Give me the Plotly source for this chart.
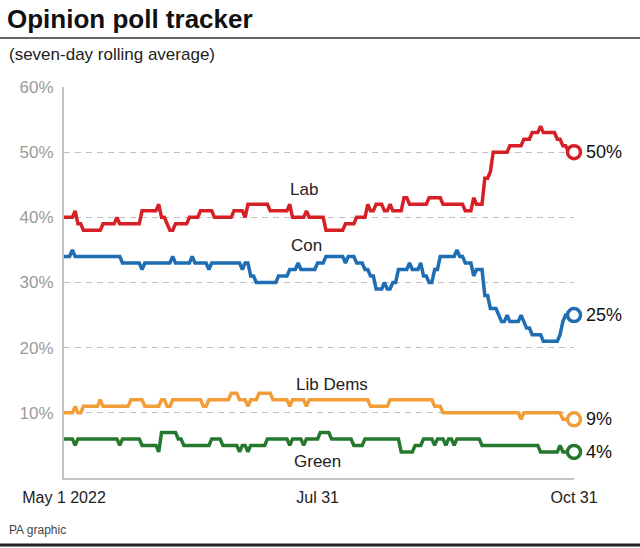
import pandas as pd
import plotly.graph_objects as go

# ---- data (day offsets from 1 May 2022 where the rolling average changes) ----
start_date = "2022-05-01"

lab_days = [0, 4, 5, 7, 14, 19, 20, 28, 34, 35, 37, 38, 40, 45, 49, 54, 61, 65, 66, 74, 81, 82, 87, 88,
            94, 101, 105, 109, 110, 112, 115, 117, 118, 122, 124, 131, 136, 144, 147, 148, 151, 153,
            154, 160, 165, 168, 171, 172, 177, 179, 181, 183]
lab_vals = [40, 41, 39, 38, 39, 40, 39, 41, 42, 40, 39, 38, 39, 40, 41, 40, 41, 40, 42, 41, 42, 40, 41, 40,
            38, 39, 40, 42, 41, 42, 41, 42, 41, 43, 42, 43, 42, 41, 43, 42, 46, 47,
            50, 51, 52, 53, 54, 53, 52, 51, 50, 50]

con_days = [0, 3, 4, 21, 28, 29, 39, 40, 46, 47, 52, 53, 64, 65, 67, 69, 77, 81, 84, 85, 91, 94, 101, 102,
            105, 108, 110, 112, 115, 116, 118, 120, 124, 125, 128, 129, 131, 133, 135, 141, 142, 144,
            147, 148, 151, 153, 156, 157, 159, 160, 164, 165, 166, 168, 172, 178, 179, 180, 183]
con_vals = [34, 35, 34, 33, 32, 33, 34, 33, 34, 33, 32, 33, 32, 33, 31, 30, 31, 32, 33, 32, 33, 34, 33, 34,
            33, 32, 31, 29, 30, 29, 30, 32, 33, 32, 33, 31, 30, 32, 34, 35, 34, 33,
            31, 32, 28, 26, 25, 24, 25, 24, 25, 24, 23, 22, 21, 22, 24, 25, 25]

ld_days = [0, 4, 5, 7, 13, 14, 24, 29, 35, 37, 39, 50, 52, 60, 63, 66, 67, 70, 75, 81, 82, 87, 88,
           110, 117, 133, 136, 164, 165, 179, 183]
ld_vals = [10, 11, 10, 11, 12, 11, 12, 11, 12, 11, 12, 11, 12, 13, 12, 11, 12, 13, 12, 11, 12, 11, 12,
           11, 12, 11, 10, 9, 10, 9, 9]

green_days = [0, 4, 5, 20, 21, 28, 34, 35, 41, 43, 53, 57, 63, 64, 66, 67, 73, 81, 82, 86, 87, 92, 96,
              104, 108, 121, 126, 129, 133, 134, 137, 138, 140, 141, 150, 171, 178, 179, 183]
green_vals = [6, 5, 6, 5, 6, 5, 4, 7, 6, 5, 6, 5, 4, 5, 4, 5, 6, 5, 6, 5, 6, 7, 6,
              5, 6, 4, 5, 6, 5, 6, 5, 6, 5, 6, 5, 4, 5, 4, 4]

party_names = ["Lab", "Con", "Lib Dems", "Green"]
party_colors = ["#d71f26", "#1f6db3", "#f29d38", "#26782f"]

tick_dates = ["2022-05-01", "2022-07-31", "2022-10-31"]
tick_labels = ["May 1 2022", "Jul 31", "Oct 31"]
y_ticks = [10, 20, 30, 40, 50, 60]

# label anchor positions for the series names (day offset, value)
name_days = [86, 87, 96, 91]
name_vals = [44.3, 35.7, 14.3, 2.6]

series = [(lab_days, lab_vals), (con_days, con_vals), (ld_days, ld_vals), (green_days, green_vals)]

FONT = "Liberation Sans, Arial, sans-serif"
base = pd.Timestamp(start_date)


def daily_path(days, vals):
    """Each reading holds until the day before the next change (daily rolling average)."""
    xs, ys = [], []
    for i, (d, v) in enumerate(zip(days, vals)):
        xs.append(d)
        ys.append(v)
        if i + 1 < len(days) and days[i + 1] - 1 > d:
            xs.append(days[i + 1] - 1)
            ys.append(v)
    return [base + pd.Timedelta(days=x) for x in xs], ys


fig = go.Figure()
for (days, vals), name, col in zip(series, party_names, party_colors):
    dates, ys = daily_path(days, vals)
    fig.add_trace(go.Scatter(x=dates, y=ys, mode="lines", line=dict(color=col, width=3.5),
                             name=name, hoverinfo="skip", showlegend=False))
    fig.add_trace(go.Scatter(x=[dates[-1]], y=[ys[-1]], mode="markers",
                             marker=dict(symbol="circle", size=13, color="white",
                                         line=dict(color=col, width=3.5)),
                             hoverinfo="skip", showlegend=False, cliponaxis=False))
    fig.add_annotation(x=dates[-1], y=ys[-1], text=f"{ys[-1]}%", showarrow=False,
                       xanchor="left", xshift=10, yanchor="middle",
                       font=dict(family=FONT, size=18, color="#111"))

for name, d, v in zip(party_names, name_days, name_vals):
    fig.add_annotation(x=base + pd.Timedelta(days=d), y=v, text=name, showarrow=False,
                       xanchor="center", yanchor="middle",
                       font=dict(family=FONT, size=17, color="#222"))

# plot area geometry in pixels
L, R, T, B = 64, 574, 87, 478
W, H = R - L, B - T


def px(x):
    return (x - L) / W


def py(y):
    return (B - y) / H


fig.add_shape(type="line", xref="paper", yref="paper", x0=px(0), x1=px(640), y0=py(38), y1=py(38),
              line=dict(color="#333", width=1.5))
fig.add_shape(type="line", xref="paper", yref="paper", x0=px(0), x1=px(640), y0=py(545), y1=py(545),
              line=dict(color="#222", width=3))

fig.add_annotation(xref="paper", yref="paper", x=px(7), y=py(55), text="(seven-day rolling average)",
                   showarrow=False, xanchor="left", yanchor="middle",
                   font=dict(family=FONT, size=17, color="#222"))
fig.add_annotation(xref="paper", yref="paper", x=px(7), y=py(530), text="PA graphic",
                   showarrow=False, xanchor="left", yanchor="middle",
                   font=dict(family=FONT, size=12, color="#444"))

fig.update_layout(
    width=640, height=548,
    margin=dict(l=L, r=640 - R, t=T, b=548 - B, pad=0),
    paper_bgcolor="white", plot_bgcolor="white",
    title=dict(text="<b>Opinion poll tracker</b>", x=7 / 640, xanchor="left", xref="container",
               y=1 - 19 / 548, yref="container", yanchor="middle",
               font=dict(family=FONT, size=26, color="#111")),
    xaxis=dict(type="date", range=[base, base + pd.Timedelta(days=183)],
               tickvals=tick_dates, ticktext=tick_labels, showgrid=False, zeroline=False,
               showline=True, linecolor="#c4c4c4", linewidth=2, ticks="",
               tickfont=dict(family=FONT, size=16, color="#222"), ticklabelstandoff=4),
    yaxis=dict(range=[0, 60], tickvals=y_ticks, ticktext=[f"{v}%" for v in y_ticks],
               showgrid=True, gridcolor="#c0c0c0", gridwidth=1, griddash="6px,5px",
               zeroline=False, showline=True, linecolor="#c4c4c4", linewidth=2, ticks="",
               tickfont=dict(family=FONT, size=17, color="#9a9a9a"), ticklabelstandoff=5),
)

fig.write_html("out.html", config={"displayModeBar": False},
               post_script="document.body.style.margin='0';")
